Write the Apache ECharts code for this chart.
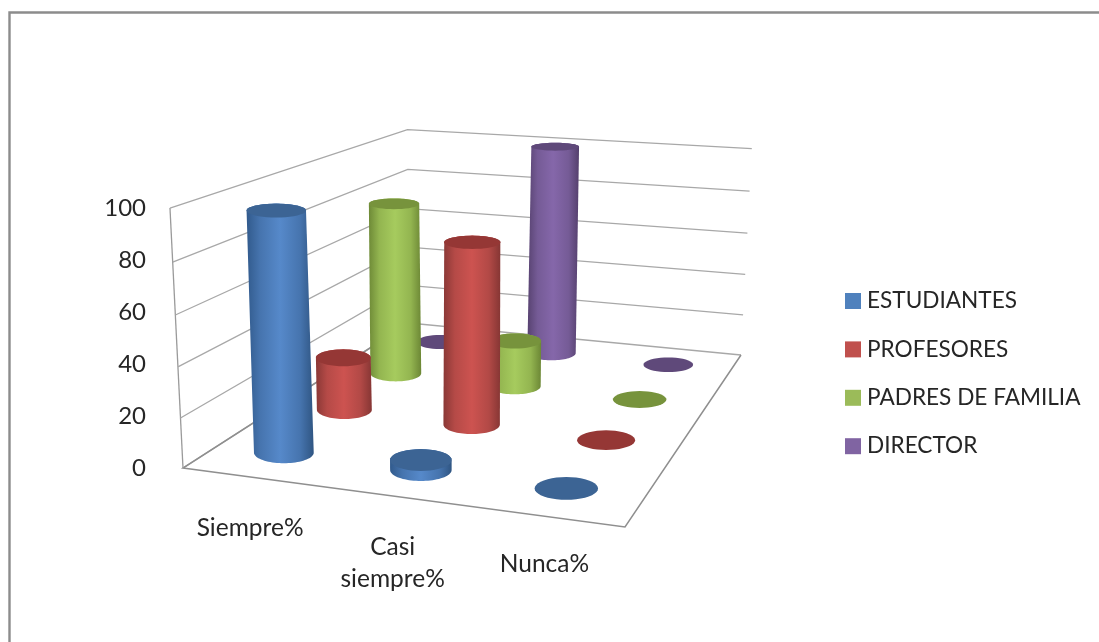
<!DOCTYPE html>
<html>
<head>
<meta charset="utf-8">
<style>html,body{margin:0;padding:0;background:#fff}#chart{width:1099px;height:642px}</style>
<script src="https://cdn.jsdelivr.net/npm/echarts@6/dist/echarts.min.js"></script>
</head>
<body>
<div id="chart"></div>
<script>
// Survey answers in percent, one list per respondent group.
const categories = ['Siempre%', 'Casi\nsiempre%', 'Nunca%'];
const estudiantes = [96, 4, 0];
const profesores = [23, 77, 0];
const padres = [79, 21, 0];
const director = [0, 100, 0];
const yTicks = [0, 20, 40, 60, 80, 100];

// Groups ordered from the front row to the back row of the floor.
const rows = [
  { name: 'ESTUDIANTES', values: estudiantes,
    shades: ['#315a8c', '#4674ae', '#5689ca', '#4674ae', '#2f5582'], cap: '#3c6494', swatch: '#4f81bd' },
  { name: 'PROFESORES', values: profesores,
    shades: ['#8a3836', '#b54a47', '#cd5350', '#b24946', '#863634'], cap: '#953735', swatch: '#c0504d' },
  { name: 'PADRES DE FAMILIA', values: padres,
    shades: ['#6e8a37', '#93b550', '#a6cb5e', '#93b550', '#6c8735'], cap: '#77933c', swatch: '#9bbb59' },
  { name: 'DIRECTOR', values: director,
    shades: ['#574270', '#755b96', '#8567aa', '#755b96', '#543f6c'], cap: '#5f497a', swatch: '#8064a2' }
];

const FONT = 'Lato, "Open Sans", sans-serif';
const GRID = { left: 147, top: 208, width: 300, height: 260 };

// Floor corners of the box on screen: front-left, front-right, back-right, back-left.
const A = [183, 468], B = [625, 527], C = [741, 355], D = [409, 323];
// Point where the box's upright edges converge, and the weight that scales height.
const VANISH = [453, 5859], LAMBDA = -0.046;

// Perspective map of the unit floor square, with height added along the upright direction.
const sx = A[0] - B[0] + C[0] - D[0], sy = A[1] - B[1] + C[1] - D[1];
const d1x = B[0] - C[0], d1y = B[1] - C[1], d2x = D[0] - C[0], d2y = D[1] - C[1];
const den = d1x * d2y - d2x * d1y;
const g = (sx * d2y - d2x * sy) / den, h = (d1x * sy - sx * d1y) / den;
const m = [B[0] - A[0] + g * B[0], D[0] - A[0] + h * D[0], A[0],
           B[1] - A[1] + g * B[1], D[1] - A[1] + h * D[1], A[1]];

function project(u, v, z) {
  const w = g * u + h * v + 1 + z * LAMBDA;
  return {
    x: (m[0] * u + m[1] * v + m[2] + z * LAMBDA * VANISH[0]) / w,
    y: (m[3] * u + m[4] * v + m[5] + z * LAMBDA * VANISH[1]) / w,
    scale: 1 / w
  };
}

// Screen ellipse for a cylinder cross-section at floor position (u, v) and height z.
function ring(u, v, z) {
  const p = project(u - 0.004, v, z);
  const rx = 30.8 * p.scale * (1 - 0.05 * z);
  const ratio = 0.37 - 0.085 * v - 0.13 * z;
  return { x: p.x, y: p.y, rx: rx, ry: rx * ratio };
}
function arc(e, from, to) {
  const pts = [];
  for (let i = 0; i <= 40; i++) {
    const t = from + (to - from) * i / 40;
    pts.push([e.x + e.rx * Math.cos(t), e.y + e.ry * Math.sin(t)]);
  }
  return pts;
}

function cylinderSeries(row, rowIndex) {
  return {
    type: 'custom',
    name: row.name,
    coordinateSystem: 'cartesian2d',
    z: 10 - rowIndex,
    itemStyle: { color: row.swatch },
    encode: { x: 0, y: 1 },
    data: row.values.map((value, i) => [i, value]),
    renderItem(params, api) {
      const cat = api.value(0), value = api.value(1);
      const tip = api.coord([cat, value]), foot = api.coord([cat, 0]);
      const u = (tip[0] - GRID.left) / GRID.width;
      const z = (foot[1] - tip[1]) / GRID.height;
      const v = (rowIndex + 0.5) / rows.length;
      const bottom = ring(u, v, 0), top = ring(u, v, z);
      const children = [];
      if (value > 0) {
        const xMin = Math.min(bottom.x - bottom.rx, top.x - top.rx);
        const xMax = Math.max(bottom.x + bottom.rx, top.x + top.rx);
        children.push({
          type: 'polygon',
          shape: { points: arc(bottom, 0, Math.PI).concat(arc(top, Math.PI, 2 * Math.PI)) },
          style: {
            fill: {
              type: 'linear', global: true, x: xMin, y: 0, x2: xMax, y2: 0,
              colorStops: row.shades.map((color, k) => ({ offset: [0, 0.2, 0.5, 0.8, 1][k], color }))
            }
          }
        });
      }
      children.push({
        type: 'polygon',
        shape: { points: arc(top, 0, 2 * Math.PI) },
        style: { fill: row.cap }
      });
      return { type: 'group', children };
    }
  };
}

// Wall lines at each tick, plus the floor outline and left edge at the base.
const wallSeries = {
  type: 'custom',
  name: 'walls',
  coordinateSystem: 'cartesian2d',
  z: 1,
  silent: true,
  encode: { y: 0 },
  data: yTicks.map(t => [0, t]),
  renderItem(params, api) {
    const y = api.coord([0, api.value(1)])[1];
    const z = (GRID.top + GRID.height - y) / GRID.height;
    const pt = (u, v, zz) => { const p = project(u, v, zz); return [p.x, p.y]; };
    const children = [{
      type: 'polyline',
      shape: { points: [pt(0, 0, z), pt(0, 1, z), pt(1, 1, z)] },
      style: { stroke: '#a8a8a8', lineWidth: 1.3, fill: null }
    }];
    if (z === 0) {
      children.push({
        type: 'polyline',
        shape: { points: [pt(0, 1, 0), pt(0, 0, 0), pt(1, 0, 0), pt(1, 1, 0)] },
        style: { stroke: '#8f8f8f', lineWidth: 1.5, fill: null }
      });
      children.push({
        type: 'line',
        shape: { x1: pt(0, 0, 0)[0], y1: pt(0, 0, 0)[1], x2: pt(0, 0, 1)[0], y2: pt(0, 0, 1)[1] },
        style: { stroke: '#9a9a9a', lineWidth: 1.3 }
      });
    }
    return { type: 'group', children };
  }
};

// Category names sit below the front edge of the floor.
const labelNudge = [[-1, 35], [-1, 35], [-1, 32]];
const labelSeries = {
  type: 'custom',
  name: 'labels',
  coordinateSystem: 'cartesian2d',
  z: 1,
  silent: true,
  encode: { x: 0 },
  data: categories.map((c, i) => [i, 0]),
  renderItem(params, api) {
    const i = api.value(0);
    const c = api.coord([i, 0]);
    const p = project((c[0] - GRID.left) / GRID.width, 0, 0);
    return {
      type: 'text',
      style: {
        text: categories[i],
        x: p.x + labelNudge[i][0],
        y: p.y + labelNudge[i][1],
        align: 'center',
        verticalAlign: 'top',
        font: '24.5px ' + FONT,
        lineHeight: 32,
        fill: '#262626'
      }
    };
  }
};

const chart = echarts.init(document.getElementById('chart'), null, { renderer: 'canvas' });
chart.setOption({
  animation: false,
  backgroundColor: '#ffffff',
  graphic: [{
    type: 'polyline',
    shape: { points: [[9.5, 642], [9.5, 12.5], [1099, 12.5]] },
    style: { stroke: '#8c8c8c', lineWidth: 2.4, fill: null },
    silent: true
  }],
  grid: { left: GRID.left, top: GRID.top, width: GRID.width, height: GRID.height },
  xAxis: { type: 'category', data: categories, show: false },
  yAxis: {
    type: 'value', min: 0, max: 100, interval: 20,
    axisLine: { show: false }, axisTick: { show: false }, splitLine: { show: false },
    axisLabel: { margin: 1, fontSize: 24, fontFamily: FONT, color: '#262626', padding: [6, 0, 0, 0] }
  },
  legend: {
    orient: 'vertical', left: 840, top: 284.5,
    itemWidth: 16, itemHeight: 16, itemGap: 25.4, icon: 'rect',
    selectedMode: false,
    data: rows.map(r => r.name),
    textStyle: { fontSize: 22.6, fontFamily: FONT, color: '#262626', padding: [0, 0, 0, 1] }
  },
  series: [wallSeries, labelSeries].concat(rows.map(cylinderSeries))
});
</script>
</body>
</html>
